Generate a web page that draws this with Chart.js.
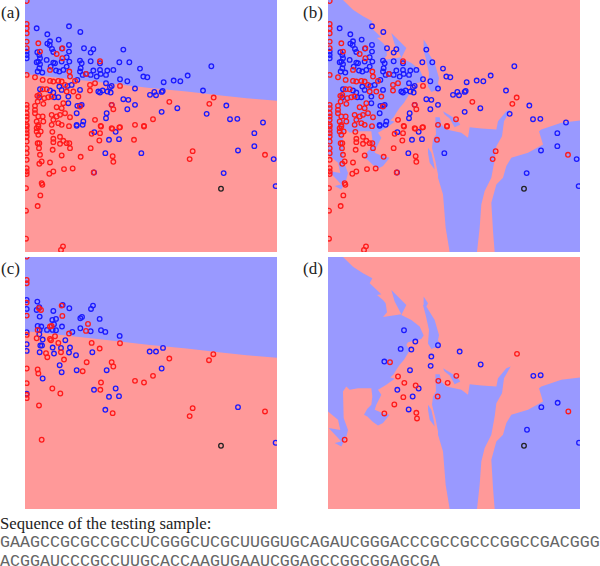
<!DOCTYPE html>
<html>
<head>
<meta charset="utf-8">
<script src="https://cdn.jsdelivr.net/npm/chart.js@4"></script>
<style>
  html, body { margin: 0; padding: 0; background: #fff; }
  body { width: 600px; height: 566px; position: relative; overflow: hidden; }
  canvas { position: absolute; display: block; }
  .tag, .caption, .seq { position: absolute; white-space: pre; color: #222; }
  .tag { font: 17px "Liberation Serif", serif; }
  .caption { left: 0; top: 514px; font: 16.7px "Liberation Serif", serif; }
  .seq { left: 0; font: 16.67px "Liberation Mono", monospace; color: #666; }
</style>
</head>
<body>
<canvas id="panelA" width="252" height="252" style="left:25px;top:0"></canvas>
<canvas id="panelB" width="252" height="252" style="left:328px;top:0"></canvas>
<canvas id="panelC" width="252" height="252" style="left:25px;top:257px"></canvas>
<canvas id="panelD" width="252" height="252" style="left:328px;top:257px"></canvas>
<div class="tag" style="left:1px;top:3px">(a)</div>
<div class="tag" style="left:303px;top:3px">(b)</div>
<div class="tag" style="left:1px;top:259px">(c)</div>
<div class="tag" style="left:303px;top:259px">(d)</div>
<div class="caption">Sequence of the testing sample:</div>
<div class="seq" style="top:533px">GAAGCCGCGCCGCCUCGGGCUCGCUUGGUGCAGAUCGGGACCCGCCGCCCGGCCGACGGG</div>
<div class="seq" style="top:552px">ACGGAUCCCGCCUUGCACCAAGUGAAUCGGAGCCGGCGGAGCGA</div>
<script>
// samples, same feature space in every panel
const allRed = [[80,3],[80,72],[80,85],[80,100],[80,125],[80,145],[115,130],[120,155],[187,145],[170,162],[187,175],[300,184],[150,210],[208,215],[258,222],[80,225],[105,232],[128,240],[150,243],[160,245],[175,243],[185,245],[210,230],[225,243],[195,255],[270,255],[285,250],[360,258],[270,272],[128,268],[140,268],[112,288],[118,285],[133,295],[145,292],[155,290],[200,275],[220,275],[235,290],[190,310],[130,312],[113,305],[80,315],[80,325],[80,340],[80,350],[105,318],[105,330],[105,340],[115,350],[128,350],[110,365],[115,375],[130,365],[155,345],[160,360],[170,350],[180,345],[195,340],[210,352],[170,322],[185,325],[240,320],[335,315],[340,328],[285,360],[302,378],[335,385],[360,382],[432,378],[175,370],[155,375],[80,360],[80,375],[110,385],[459,358],[80,380],[80,390],[80,400],[115,380],[110,395],[122,395],[115,405],[113,430],[118,430],[117,445],[120,465],[125,485],[118,492],[150,488],[160,515],[148,522],[192,508],[218,506],[185,467],[158,450],[160,417],[160,427],[157,396],[180,411],[190,423],[180,432],[200,430],[208,430],[210,445],[242,471],[272,445],[275,402],[300,400],[303,380],[298,422],[337,387],[358,383],[402,420],[405,375],[432,380],[338,469],[340,486],[569,478],[578,454],[795,465],[80,410],[80,425],[80,445],[80,460],[80,480],[80,505],[80,515],[80,523],[78,565],[125,550],[127,555],[121,587],[113,619],[78,633],[78,717],[189,740],[183,751],[207,379],[185,375],[281,518],[641,293],[628,312],[508,306]];
const allBlue = [[110,85],[207,79],[142,103],[241,96],[176,119],[150,124],[142,131],[149,135],[207,135],[156,147],[160,156],[186,146],[252,145],[280,148],[272,158],[207,155],[370,149],[80,155],[80,165],[80,175],[112,157],[118,165],[120,175],[115,185],[110,187],[120,193],[118,205],[113,215],[127,218],[140,180],[165,190],[185,185],[200,172],[208,185],[160,188],[152,200],[168,212],[178,215],[190,210],[200,200],[240,182],[245,190],[272,184],[300,190],[358,187],[388,187],[420,206],[340,210],[300,210],[322,212],[302,222],[290,230],[242,205],[240,215],[248,225],[258,222],[272,225],[318,225],[280,212],[360,238],[382,244],[430,230],[442,232],[405,266],[370,298],[385,300],[405,315],[382,328],[335,315],[320,340],[318,355],[300,278],[295,275],[308,272],[318,250],[330,262],[335,258],[322,275],[332,278],[240,318],[232,318],[245,315],[205,310],[175,292],[163,292],[150,272],[160,278],[120,268],[118,292],[202,258],[215,255],[232,240],[240,270],[178,260],[185,270],[205,290],[230,340],[230,375],[250,365],[634,199],[563,227],[521,242],[541,244],[491,247],[609,272],[463,276],[488,273],[485,276],[468,286],[450,285],[679,317],[532,325],[485,336],[620,342],[690,358],[712,357],[789,368],[230,378],[248,375],[283,397],[282,518],[327,420],[347,396],[357,418],[316,460],[424,460],[714,452],[763,400],[763,439],[821,478],[671,520],[827,559]];

const linearRed = [[80,-1],[80,69],[80,79],[80,137],[80,176],[117,154],[123,159],[185,146],[187,177],[264,201],[258,222],[207,230],[150,209],[155,207],[113,219],[80,234],[110,244],[150,246],[153,250],[165,238],[175,258],[275,258],[299,275],[360,259],[183,286],[138,289],[142,301],[192,308],[260,316],[335,316],[340,329],[248,343],[80,335],[113,338],[115,350],[508,305],[640,292],[627,310],[303,377],[405,372],[432,377],[459,357],[80,379],[157,395],[181,410],[301,399],[117,446],[338,469],[569,478],[578,454],[795,464],[125,549],[80,424],[80,414]];
const linearBlue = [[80,129],[112,134],[80,156],[118,151],[110,159],[160,162],[119,179],[208,154],[168,186],[157,189],[162,202],[158,219],[168,220],[141,219],[119,219],[124,209],[113,207],[118,232],[128,248],[121,266],[126,266],[119,286],[158,272],[183,273],[210,272],[207,287],[162,290],[228,295],[186,209],[188,144],[217,225],[241,214],[272,223],[303,220],[316,225],[359,237],[241,184],[246,180],[299,186],[273,156],[279,146],[449,284],[468,284],[489,273],[277,286],[196,250],[80,226],[80,262],[80,282],[179,325],[185,346],[230,340],[320,340],[485,335],[128,365],[80,411],[282,399],[347,395],[327,420],[357,418],[316,459],[714,451],[827,558]];

const rbfRed = [[261,316],[285,359],[304,378],[338,386],[406,372],[434,378],[460,357],[404,419],[301,421],[274,443],[244,470],[340,468],[342,485],[642,291],[796,464],[125,549]];
const rbfBlue = [[303,220],[337,254],[293,276],[325,278],[405,265],[470,284],[385,299],[244,314],[383,327],[321,340],[347,395],[283,399],[329,419],[317,458],[533,323],[691,357],[713,355],[715,451],[764,438],[672,519],[828,558]];

const testSampleUpper = [[663,567]];

// decision regions
const fullArea = [[75,0],[831,0],[831,757],[75,757],[75,0]];
const linearBoundary = [[75,0],[831,0],[831,303],[740,295],[670,288],[560,275],[450,264],[300,247],[75,222],[75,0]];
const rbfMain = [[75,0],[120,0],[150,29],[180,49],[208,64],[200,79],[235,112],[222,114],[240,129],[248,139],[252,166],[240,180],[295,172],[275,134],[265,99],[310,144],[295,174],[325,189],[350,209],[362,236],[355,246],[315,256],[310,264],[320,279],[315,289],[303,309],[290,324],[280,339],[272,352],[262,362],[275,366],[250,384],[225,399],[235,414],[220,444],[215,459],[240,469],[260,474],[240,499],[225,506],[210,496],[193,479],[183,474],[193,456],[205,444],[208,419],[205,394],[165,394],[140,399],[130,389],[120,404],[122,444],[122,484],[135,520],[130,539],[115,569],[95,559],[115,554],[77,514],[112,520],[105,489],[75,464],[75,0]];
const rbfSpike = [[362,119],[375,139],[370,149],[395,189],[408,234],[405,250],[412,266],[385,276],[375,260],[378,219],[368,174],[360,144],[362,119]];
const rbfIsland = [[420,334],[440,346],[460,359],[472,374],[455,382],[440,356],[425,344],[420,334]];
const rbfMiddle = [[397,352],[410,352],[415,374],[430,389],[475,399],[495,414],[500,382],[535,386],[580,389],[585,364],[610,334],[623,329],[603,364],[597,409],[580,439],[575,479],[565,534],[545,574],[535,614],[530,684],[522,757],[440,757],[428,684],[420,584],[405,534],[405,524],[397,484],[387,444],[390,419],[399,404],[397,352]];
const rbfRight = [[831,362],[775,369],[715,389],[708,394],[720,434],[675,459],[625,474],[610,499],[600,534],[580,554],[565,609],[570,694],[575,757],[831,757],[831,362]];
const rbfSliver = [[375,444],[385,459],[393,494],[395,509],[380,489],[375,459],[375,444]];

const pink = '#ff9999';
const lilac = '#9999ff';

function toXY(list) {
  return list.map(function (p) { return { x: p[0], y: p[1] } });
}

function region(list, color, order) {
  return {
    data: toXY(list),
    showLine: true,
    fill: 'shape',
    backgroundColor: color,
    borderWidth: 0,
    pointRadius: 0,
    order: order
  }
}

function samples(list, color, order) {
  return {
    data: toXY(list),
    showLine: false,
    pointRadius: 2.3,
    pointBorderWidth: 1.3,
    pointBorderColor: color,
    pointBackgroundColor: 'rgba(0,0,0,0)',
    clip: 0,
    order: order
  }
}

function drawPanel(id, regions, red, blue) {
  const datasets = [region(fullArea, pink, 100)]
  regions.forEach(function (r, i) {
    datasets.push(region(r, lilac, 99 - i))
  })
  datasets.push(samples(blue, '#1a1aff', 3))
  datasets.push(samples(red, '#ff1a1a', 2))
  datasets.push(samples(testSampleUpper, '#222222', 1))
  new Chart(document.getElementById(id), {
    type: 'scatter',
    data: { datasets: datasets },
    options: {
      responsive: false,
      animation: false,
      events: [],
      layout: { padding: 0, autoPadding: false },
      plugins: { legend: { display: false }, tooltip: { enabled: false }, title: { display: false } },
      scales: {
        x: { type: 'linear', display: false, min: 75, max: 831 },
        y: { type: 'linear', display: false, min: 0, max: 757, reverse: true }
      }
    }
  })
}

const rbfRegions = [rbfMain, rbfSpike, rbfIsland, rbfMiddle, rbfRight, rbfSliver]

drawPanel('panelA', [linearBoundary], allRed, allBlue)
drawPanel('panelB', rbfRegions, allRed, allBlue)
drawPanel('panelC', [linearBoundary], linearRed, linearBlue)
drawPanel('panelD', rbfRegions, rbfRed, rbfBlue)
</script>
</body>
</html>
